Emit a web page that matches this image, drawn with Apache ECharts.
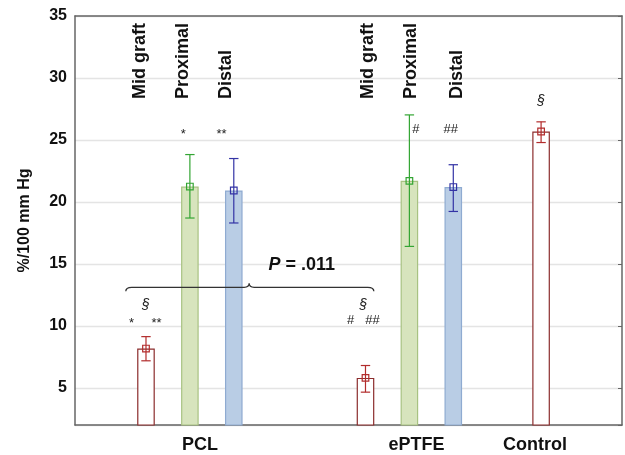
<!DOCTYPE html>
<html>
<head>
<meta charset="utf-8">
<script src="https://cdn.jsdelivr.net/npm/echarts@6/dist/echarts.min.js"></script>
<style>
  html, body { margin: 0; padding: 0; background: #fff; }
  #chart { width: 625px; height: 455px; }
</style>
</head>
<body>
<div id="chart"></div>
<script>
// bar slots along the x axis (PCL: 0-2, ePTFE: 5-7, Control: 9)
const slots = [0, 1, 2, 5, 6, 7, 9];
const kinds = [0, 1, 2, 0, 1, 2, 0]; // 0 mid graft, 1 proximal, 2 distal
const means = [8.17, 21.24, 20.92, 5.8, 21.7, 21.2, 25.68];
const lows = [7.18, 18.7, 18.3, 4.65, 16.41, 19.23, 24.79];
const highs = [9.13, 23.82, 23.5, 6.8, 27.02, 23.0, 26.46];

const groupNames = ['PCL', 'ePTFE', 'Control'];
const groupPos = [1.23, 6.16, 8.86];

const siteNames = ['Mid graft', 'Proximal', 'Distal', 'Mid graft', 'Proximal', 'Distal'];
const sitePos = [-0.14, 0.85, 1.82, 5.06, 6.03, 7.08];
const siteY = 28.3;

const marks = ['*', '**', '§', '*', '**', '§', '#', '##', '#', '##', '§'];
const markX = [0.85, 1.72, 0, -0.33, 0.24, 4.95, 4.66, 5.16, 6.15, 6.94, 9.0];
const markY = [25.68, 25.68, 11.71, 10.42, 10.42, 11.71, 10.42, 10.42, 25.81, 25.81, 28.17];

// brace between the two mid graft bars
const brace = [-0.46, 5.19, 2.35, 13.11]; // from, to, tip, level
const pLabel = ['P', ' = .011'];
const pPos = [3.55, 14.94];

const barFill = ['#ffffff', '#d7e4bd', '#b9cde5'];
const barEdge = ['#8c2d2d', '#a8c282', '#8fabd1'];
const errColor = ['#b22c2c', '#33a533', '#3333a5'];
const FONT = 'Liberation Sans, Arial, sans-serif';

const chart = echarts.init(document.getElementById('chart'));

const frameLine = { show: true, onZero: false, lineStyle: { color: '#666', width: 1.5 } };

const option = {
  animation: false,
  grid: { left: 75, right: 3, top: 16, bottom: 30 },
  xAxis: [
    {
      type: 'value',
      min: -1.617,
      max: 10.843,
      splitLine: { show: false },
      axisTick: { show: false },
      axisLine: frameLine,
      axisLabel: {
        customValues: groupPos,
        margin: 11,
        fontSize: 18,
        fontWeight: 'bold',
        fontFamily: FONT,
        color: '#111',
        formatter: (v) => groupNames[groupPos.indexOf(v)] || ''
      }
    },
    {
      type: 'value',
      position: 'top',
      min: -1.617,
      max: 10.843,
      splitLine: { show: false },
      axisTick: { show: false },
      axisLabel: { show: false },
      axisLine: frameLine
    }
  ],
  yAxis: [
    {
      type: 'value',
      min: 2,
      max: 35,
      splitNumber: 7,
      name: '%/100 mm Hg',
      nameLocation: 'middle',
      nameGap: 42,
      nameTextStyle: { fontSize: 16, fontWeight: 'bold', fontFamily: FONT, color: '#111' },
      axisLine: frameLine,
      axisTick: { show: false },
      splitLine: { lineStyle: { color: '#e4e4e4', width: 1.3 } },
      axisLabel: {
        showMinLabel: false,
        margin: 8,
        fontSize: 16,
        fontWeight: 'bold',
        fontFamily: FONT,
        color: '#111'
      }
    },
    {
      type: 'value',
      position: 'right',
      min: 2,
      max: 35,
      splitNumber: 7,
      axisLine: frameLine,
      axisTick: { show: true, inside: true, length: 4, lineStyle: { color: '#666' } },
      axisLabel: { show: false },
      splitLine: { show: false }
    }
  ],
  series: [
    {
      type: 'bar',
      barWidth: 17.6,
      z: 2,
      data: slots.map((s, i) => ({
        value: [s, means[i]],
        itemStyle: { color: barFill[kinds[i]], borderColor: barEdge[kinds[i]], borderWidth: 1.2 }
      }))
    },
    {
      type: 'custom',
      z: 5,
      data: slots.map((s, i) => [s, lows[i], highs[i], means[i]]),
      renderItem: (params, api) => {
        const i = params.dataIndex;
        const x = api.value(0);
        const lo = api.coord([x, api.value(1)]);
        const hi = api.coord([x, api.value(2)]);
        const m = api.coord([x, api.value(3)]);
        const c = errColor[kinds[i]];
        const hw = 4.7, s = 3.3;
        const st = { stroke: c, lineWidth: 1.2, fill: 'none' };
        return {
          type: 'group',
          children: [
            { type: 'line', shape: { x1: lo[0], y1: lo[1], x2: hi[0], y2: hi[1] }, style: st },
            { type: 'line', shape: { x1: lo[0] - hw, y1: lo[1], x2: lo[0] + hw, y2: lo[1] }, style: st },
            { type: 'line', shape: { x1: hi[0] - hw, y1: hi[1], x2: hi[0] + hw, y2: hi[1] }, style: st },
            { type: 'rect', shape: { x: m[0] - s, y: m[1] - s, width: 2 * s, height: 2 * s }, style: st }
          ]
        };
      }
    },
    {
      type: 'custom',
      z: 5,
      data: sitePos.map((x) => [x, siteY]),
      renderItem: (params, api) => {
        const p = api.coord([api.value(0), api.value(1)]);
        return {
          type: 'text',
          x: p[0],
          y: p[1],
          rotation: Math.PI / 2,
          style: {
            text: siteNames[params.dataIndex],
            font: 'bold 18px ' + FONT,
            fill: '#111',
            align: 'left',
            verticalAlign: 'middle'
          }
        };
      }
    },
    {
      type: 'custom',
      z: 5,
      data: marks.map((t, i) => [markX[i], markY[i]]),
      renderItem: (params, api) => {
        const t = marks[params.dataIndex];
        const p = api.coord([api.value(0), api.value(1)]);
        const star = t.indexOf('*') >= 0;
        const sect = t === '§';
        return {
          type: 'text',
          x: p[0],
          y: p[1] + (star ? 3 : 0),
          style: {
            text: t,
            font: (sect ? 'italic 14px ' : '13px ') + FONT,
            fill: '#222',
            align: 'center',
            verticalAlign: 'middle'
          }
        };
      }
    },
    {
      type: 'custom',
      z: 5,
      data: [[brace[0], brace[3]]],
      renderItem: (params, api) => {
        const L = api.coord([brace[0], brace[3]]);
        const R = api.coord([brace[1], brace[3]]);
        const T = api.coord([brace[2], brace[3]]);
        const y = L[1];
        const d = 'M' + L[0] + ' ' + (y + 4) + ' Q' + L[0] + ' ' + y + ' ' + (L[0] + 6) + ' ' + y +
          ' L' + (T[0] - 5) + ' ' + y + ' Q' + T[0] + ' ' + y + ' ' + T[0] + ' ' + (y - 4) +
          ' Q' + T[0] + ' ' + y + ' ' + (T[0] + 5) + ' ' + y +
          ' L' + (R[0] - 6) + ' ' + y + ' Q' + R[0] + ' ' + y + ' ' + R[0] + ' ' + (y + 4);
        return {
          type: 'path',
          shape: { pathData: d },
          style: { stroke: '#333', lineWidth: 1.3, fill: 'none' }
        };
      }
    },
    {
      type: 'custom',
      z: 5,
      data: [pPos],
      renderItem: (params, api) => {
        const p = api.coord(pPos);
        return {
          type: 'text',
          x: p[0],
          y: p[1],
          style: {
            text: '{i|' + pLabel[0] + '}' + pLabel[1],
            font: 'bold 18px ' + FONT,
            fill: '#111',
            align: 'center',
            verticalAlign: 'middle',
            rich: { i: { fontStyle: 'italic', fontWeight: 'bold', fontSize: 18, fontFamily: FONT, fill: '#111' } }
          }
        };
      }
    }
  ]
};

chart.setOption(option);
</script>
</body>
</html>
